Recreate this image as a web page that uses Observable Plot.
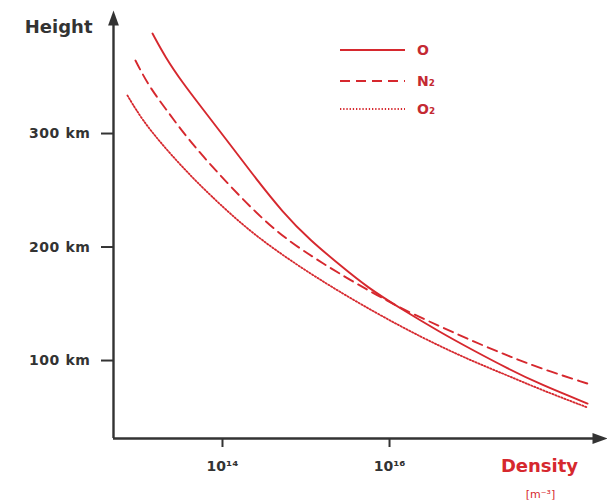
<!DOCTYPE html>
<html><head><meta charset="utf-8">
<script src="https://cdn.jsdelivr.net/npm/d3@7"></script>
<script src="https://cdn.jsdelivr.net/npm/@observablehq/plot@0.6"></script>
<style>
body{margin:0;background:#fff;}
#wrap{position:relative;width:607px;height:500px;}
#legend{position:absolute;left:0;top:0;}
svg text{font-family:"DejaVu Sans",sans-serif;}
</style></head><body><div id="wrap"></div>
<script>
// Data: log10 of density (m^-3) and height (km)
const seriesNames = ["O", "N₂", "O₂"];
const logDensityO  = [13.162, 13.317, 13.521, 13.760, 14.036, 14.335, 14.731, 15.054, 15.413, 15.737, 16.132, 16.611, 17.006, 17.413, 17.808, 18.371];
const heightO      = [388.1, 367.0, 344.9, 322.0, 295.6, 266.5, 229.5, 205.7, 183.7, 164.3, 145.8, 124.7, 108.8, 93.0, 78.9, 62.1];
const logDensityN2 = [12.958, 13.114, 13.317, 13.557, 13.760, 14.060, 14.611, 15.090, 15.497, 16.132, 16.611, 17.006, 17.413, 17.808, 18.371];
const heightN2     = [364.3, 342.3, 322.0, 298.2, 280.6, 255.9, 214.5, 190.7, 172.2, 145.8, 130.0, 116.7, 104.4, 93.0, 79.7];
const logDensityO2 = [12.862, 13.042, 13.317, 13.593, 13.832, 14.335, 14.934, 15.533, 16.132, 16.611, 17.006, 17.413, 17.808, 18.371];
const heightO2     = [333.5, 311.5, 286.8, 264.8, 247.1, 212.8, 181.9, 154.6, 130.0, 112.3, 99.1, 86.8, 74.4, 58.6];
const heightTicks  = [100, 200, 300];
const densityTicks = [1e14, 1e16];
const densityTickLabels = ["10¹⁴", "10¹⁶"];

const red = "#d6282e";
const ink = "#333";
const dashes = [null, "10,6", "1.3,1.9"];
const widths = [1.9, 1.9, 1.8];

const xmin = 10 ** 12.695, xmax = 10 ** 18.61;
const ymin = 31.3, ymax = 408.4;

const table = [
  ...logDensityO.map((e, i) => ({s: seriesNames[0], d: 10 ** e, h: heightO[i]})),
  ...logDensityN2.map((e, i) => ({s: seriesNames[1], d: 10 ** e, h: heightN2[i]})),
  ...logDensityO2.map((e, i) => ({s: seriesNames[2], d: 10 ** e, h: heightO2[i]}))
];

const arrowHead = {
  draw(context, size) {
    const l = Math.sqrt(size / Math.PI) * 2;
    const w = l * 0.36;
    context.moveTo(0, 0);
    context.lineTo(-w, l);
    context.lineTo(w, l);
    context.closePath();
  }
};

const chart = Plot.plot({
  width: 607, height: 500,
  marginLeft: 113, marginRight: 0, marginTop: 10, marginBottom: 62,
  x: {type: "log", domain: [xmin, xmax], axis: null},
  y: {domain: [ymin, ymax], axis: null},
  style: {fontFamily: "DejaVu Sans, sans-serif", background: "#fff"},
  marks: [
    ...seriesNames.map((name, k) => Plot.line(table.filter(r => r.s === name), {
      x: "d", y: "h", curve: "basis", stroke: red,
      strokeWidth: widths[k], strokeDasharray: dashes[k] ?? undefined
    })),
    Plot.ruleX([xmin], {y1: ymin, y2: ymax - 6, stroke: ink, strokeWidth: 2.4}),
    Plot.ruleY([ymin], {x1: xmin, x2: 10 ** 18.5, stroke: ink, strokeWidth: 2.4}),
    Plot.dot([{x: xmin, y: ymax}], {x: "x", y: "y", symbol: arrowHead, r: 7.5, fill: ink, stroke: "none"}),
    Plot.dot([{x: xmax, y: ymin}], {x: "x", y: "y", symbol: arrowHead, r: 7.5, rotate: 90, fill: ink, stroke: "none"}),
    Plot.axisY({ticks: heightTicks, tickFormat: d => `${d} km`, tickSize: 12, tickPadding: 11,
      fontSize: 14, fontWeight: "bold", color: ink, strokeWidth: 2, label: null}),
    Plot.axisX({ticks: densityTicks,
      tickFormat: d => densityTickLabels[densityTicks.findIndex(t => Math.abs(Math.log10(t) - Math.log10(d)) < 1e-6)],
      tickSize: 9, tickPadding: 14,
      fontSize: 14, fontWeight: "bold", color: ink, strokeWidth: 2, label: null}),
    Plot.text(["Height"], {frameAnchor: "top-left", dx: -21, dy: 22, textAnchor: "end", lineAnchor: "bottom",
      fontSize: 18, fontWeight: "bold", fill: ink}),
    Plot.text(["Density"], {frameAnchor: "bottom-right", dx: -68, dy: 33, textAnchor: "middle", lineAnchor: "bottom",
      fontSize: 18, fontWeight: "bold", fill: red}),
    Plot.text(["[m⁻³]"], {frameAnchor: "bottom-right", dx: -67, dy: 59, textAnchor: "middle", lineAnchor: "bottom",
      fontSize: 11, fill: red})
  ]
});
const wrap = document.getElementById("wrap");
wrap.appendChild(chart);
d3.select(chart).selectAll("g[aria-label='y-axis tick label'] text").style("letter-spacing", "0.6px");

// Legend
const leg = d3.select(wrap).append("svg").attr("id", "legend").attr("width", 607).attr("height", 140);
const legY = [50, 81, 109];
seriesNames.forEach((name, k) => {
  leg.append("line").attr("x1", 340).attr("x2", 405).attr("y1", legY[k]).attr("y2", legY[k])
    .attr("stroke", red).attr("stroke-width", k === 2 ? 1.8 : 2.2)
    .attr("stroke-dasharray", dashes[k]);
  leg.append("text").attr("x", 417).attr("y", legY[k]).attr("dy", "0.36em")
    .attr("font-size", 14).attr("font-weight", "bold").attr("fill", "#c42a32").text(name);
});
</script></body></html>
